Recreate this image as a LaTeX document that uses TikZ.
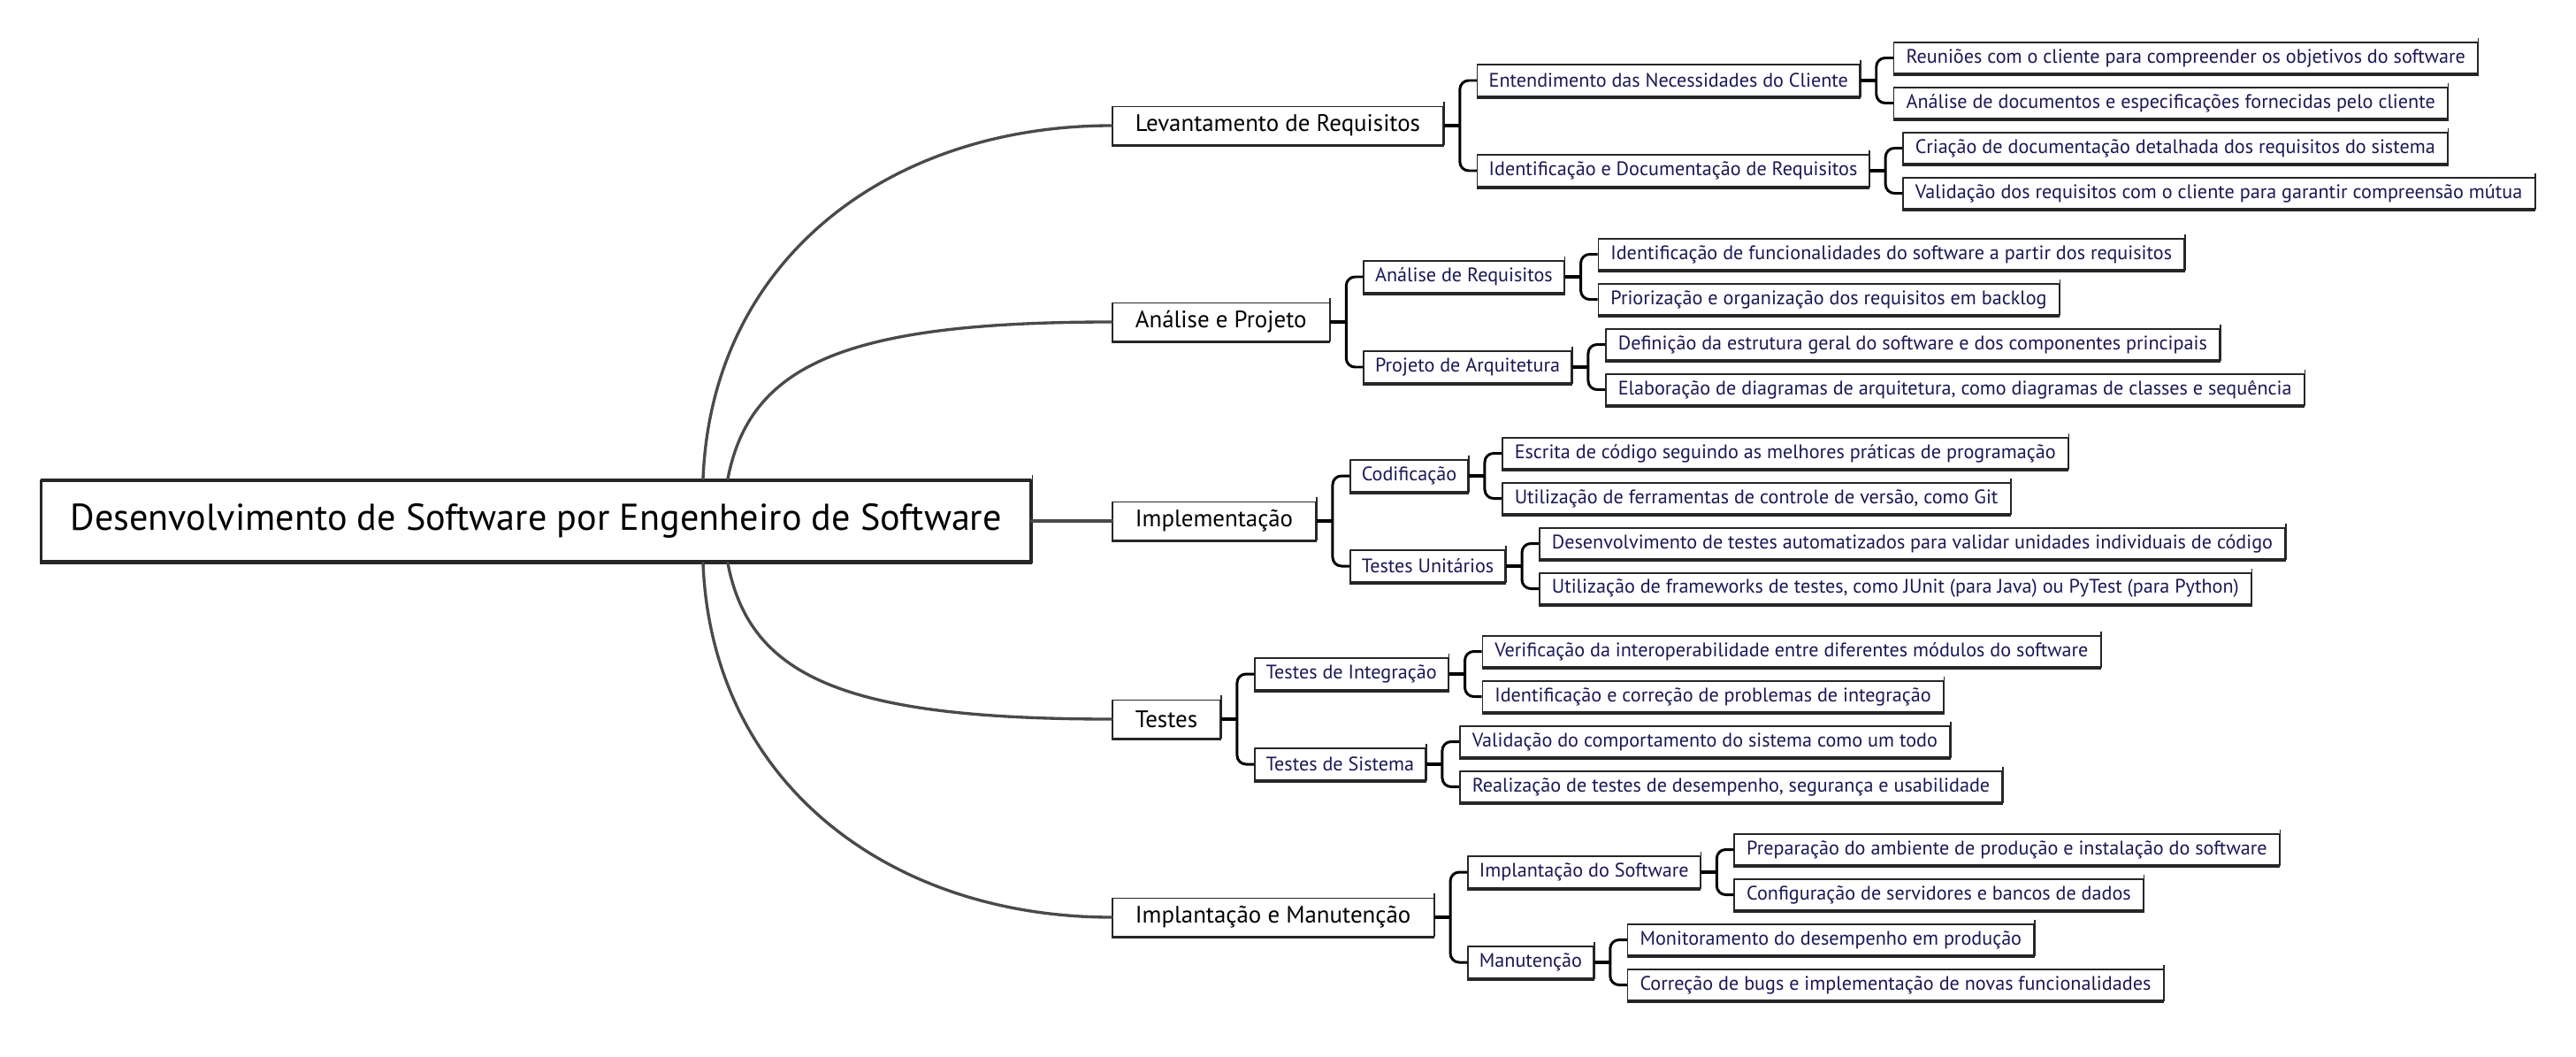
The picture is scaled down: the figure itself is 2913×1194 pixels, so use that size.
\documentclass[tikz,border=0pt]{standalone}
\usepackage{fontspec}
\setmainfont{PT Sans}
\usetikzlibrary{calc,positioning}
\definecolor{navy}{RGB}{28,24,84}
\definecolor{branchgray}{RGB}{74,74,74}
\tikzset{
  mapbox/.style={draw=black!85, fill=white, line width=0.45pt, inner ysep=0pt,
    append after command={(\tikzlastnode.south west) edge[draw=black!85, line width=1pt] (\tikzlastnode.south east)
      ([yshift=1.2pt]\tikzlastnode.north east) edge[draw=black!85, line width=0.45pt] (\tikzlastnode.south east)}},
  rootbox/.style={mapbox, line width=0.9pt, minimum height=0.92cm, inner xsep=0.33cm, font=\fontsize{12}{14}\selectfont},
  topicbox/.style={mapbox, minimum height=0.43cm, inner xsep=0.26cm, font=\fontsize{7.65}{9}\selectfont},
  subbox/.style={mapbox, minimum height=0.36cm, inner xsep=0.13cm, text=navy, font=\fontsize{6.3}{7.5}\selectfont},
  leafbox/.style={subbox, minimum height=0.35cm, inner xsep=0.14cm},
  branchline/.style={draw=branchgray, line width=0.95pt, line cap=round},
  stemline/.style={draw=black, line width=1.1pt},
  bracket/.style={draw=black, line width=0.85pt, rounded corners=0.1cm},
}
\begin{document}
\begin{tikzpicture}[x=0.01cm, y=-0.01cm, line join=round]
\useasboundingbox (0,0) rectangle (2913,1194);
% centre
\node[rootbox, anchor=west] (root) at (45,589) {Desenvolvimento de Software por Engenheiro de Software};
% ramos principais
\node[topicbox, anchor=west] (lev) at (1257,142) {Levantamento de Requisitos};
\node[topicbox, anchor=west] (ana) at (1257,364) {Análise e Projeto};
\node[topicbox, anchor=west] (imp) at (1257,589) {Implementação};
\node[topicbox, anchor=west] (tst) at (1257,813) {Testes};
\node[topicbox, anchor=west] (dep) at (1257,1037) {Implantação e Manutenção};
% nivel 2
\node[subbox, anchor=west] (levA) at ($(lev.east)+(37,-51)$) {Entendimento das Necessidades do Cliente};
\node[subbox, anchor=west] (levB) at ($(lev.east)+(37,51)$) {Identificação e Documentação de Requisitos};
\node[subbox, anchor=west] (anaA) at ($(ana.east)+(37,-51)$) {Análise de Requisitos};
\node[subbox, anchor=west] (anaB) at ($(ana.east)+(37,51)$) {Projeto de Arquitetura};
\node[subbox, anchor=west] (impA) at ($(imp.east)+(37,-51)$) {Codificação};
\node[subbox, anchor=west] (impB) at ($(imp.east)+(37,51)$) {Testes Unitários};
\node[subbox, anchor=west] (tstA) at ($(tst.east)+(37,-51)$) {Testes de Integração};
\node[subbox, anchor=west] (tstB) at ($(tst.east)+(37,51)$) {Testes de Sistema};
\node[subbox, anchor=west] (depA) at ($(dep.east)+(37,-51)$) {Implantação do Software};
\node[subbox, anchor=west] (depB) at ($(dep.east)+(37,51)$) {Manutenção};
% nivel 3
\node[leafbox, anchor=west] (levA1) at ($(levA.east)+(37,-25.5)$) {Reuniões com o cliente para compreender os objetivos do software};
\node[leafbox, anchor=west] (levA2) at ($(levA.east)+(37,25.5)$) {Análise de documentos e especificações fornecidas pelo cliente};
\node[leafbox, anchor=west] (levB1) at ($(levB.east)+(37,-25.5)$) {Criação de documentação detalhada dos requisitos do sistema};
\node[leafbox, anchor=west] (levB2) at ($(levB.east)+(37,25.5)$) {Validação dos requisitos com o cliente para garantir compreensão mútua};
\node[leafbox, anchor=west] (anaA1) at ($(anaA.east)+(37,-25.5)$) {Identificação de funcionalidades do software a partir dos requisitos};
\node[leafbox, anchor=west] (anaA2) at ($(anaA.east)+(37,25.5)$) {Priorização e organização dos requisitos em backlog};
\node[leafbox, anchor=west] (anaB1) at ($(anaB.east)+(37,-25.5)$) {Definição da estrutura geral do software e dos componentes principais};
\node[leafbox, anchor=west] (anaB2) at ($(anaB.east)+(37,25.5)$) {Elaboração de diagramas de arquitetura, como diagramas de classes e sequência};
\node[leafbox, anchor=west] (impA1) at ($(impA.east)+(37,-25.5)$) {Escrita de código seguindo as melhores práticas de programação};
\node[leafbox, anchor=west] (impA2) at ($(impA.east)+(37,25.5)$) {Utilização de ferramentas de controle de versão, como Git};
\node[leafbox, anchor=west] (impB1) at ($(impB.east)+(37,-25.5)$) {Desenvolvimento de testes automatizados para validar unidades individuais de código};
\node[leafbox, anchor=west] (impB2) at ($(impB.east)+(37,25.5)$) {Utilização de frameworks de testes, como JUnit (para Java) ou PyTest (para Python)};
\node[leafbox, anchor=west] (tstA1) at ($(tstA.east)+(37,-25.5)$) {Verificação da interoperabilidade entre diferentes módulos do software};
\node[leafbox, anchor=west] (tstA2) at ($(tstA.east)+(37,25.5)$) {Identificação e correção de problemas de integração};
\node[leafbox, anchor=west] (tstB1) at ($(tstB.east)+(37,-25.5)$) {Validação do comportamento do sistema como um todo};
\node[leafbox, anchor=west] (tstB2) at ($(tstB.east)+(37,25.5)$) {Realização de testes de desempenho, segurança e usabilidade};
\node[leafbox, anchor=west] (depA1) at ($(depA.east)+(37,-25.5)$) {Preparação do ambiente de produção e instalação do software};
\node[leafbox, anchor=west] (depA2) at ($(depA.east)+(37,25.5)$) {Configuração de servidores e bancos de dados};
\node[leafbox, anchor=west] (depB1) at ($(depB.east)+(37,-25.5)$) {Monitoramento do desempenho em produção};
\node[leafbox, anchor=west] (depB2) at ($(depB.east)+(37,25.5)$) {Correção de bugs e implementação de novas funcionalidades};
% ligacoes do centro
\coordinate (rootN1) at ($(root.north west)+(750,0)$);
\coordinate (rootN2) at ($(root.north west)+(778,0)$);
\coordinate (rootS2) at ($(root.south west)+(778,0)$);
\coordinate (rootS1) at ($(root.south west)+(750,0)$);
\draw[branchline] (rootN1) .. controls +(10,-250) and +(-250,0) .. (lev.west);
\draw[branchline] (rootN2) .. controls +(25,-130) and +(-300,0) .. (ana.west);
\draw[branchline, line width=1.4pt] (root.east) -- (imp.west);
\draw[branchline] (rootS2) .. controls +(25,130) and +(-300,0) .. (tst.west);
\draw[branchline] (rootS1) .. controls +(10,250) and +(-250,0) .. (dep.west);
% chaves
\foreach \p/\a/\b in {lev/levA/levB, ana/anaA/anaB, imp/impA/impB, tst/tstA/tstB, dep/depA/depB,
  levA/levA1/levA2, levB/levB1/levB2, anaA/anaA1/anaA2, anaB/anaB1/anaB2, impA/impA1/impA2,
  impB/impB1/impB2, tstA/tstA1/tstA2, tstB/tstB1/tstB2, depA/depA1/depA2, depB/depB1/depB2}{
  \draw[stemline] (\p.east) -- ++(18,0) coordinate (j);
  \draw[bracket] (\a.west) -| (j) |- (\b.west);
}
\end{tikzpicture}
\end{document}
